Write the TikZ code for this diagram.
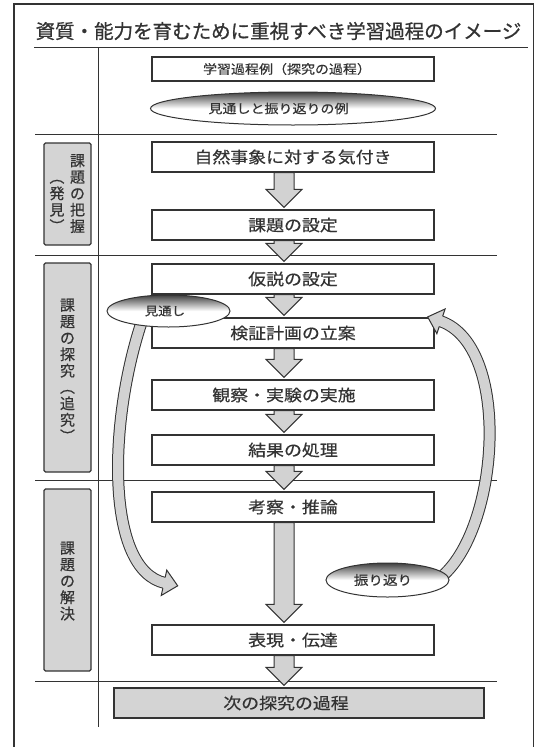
\documentclass[tikz,border=0pt]{standalone}
\usepackage{fontspec}
\newfontfamily\jp[FakeBold=0.5]{Noto Sans CJK JP}
\newfontfamily\jpt[FakeBold=0.8]{Noto Sans CJK JP}
\newfontfamily\jpw[FakeStretch=1.12,FakeBold=0.5]{Noto Sans CJK JP}
\usetikzlibrary{calc,shapes.geometric}
\definecolor{ink}{HTML}{333333}
\definecolor{lgray}{HTML}{D4D4D4}
\definecolor{agray}{HTML}{D2D2D2}
\newcommand\blockarrow[2]{%
  \path[blockarrow] let \p1=(#1.south), \p2=(#2.north) in
    (\x1-19pt,\y1) -- (\x1+1pt,\y1) -- (\x1+1pt,\y2+20pt) -- (\x1+9pt,\y2+20pt)
    -- (\x1-9pt,\y2+2pt) -- (\x1-27pt,\y2+20pt) -- (\x1-19pt,\y2+20pt) -- cycle;}
\begin{document}
\begin{tikzpicture}[x=1pt,y=-1pt,
  frame/.style={draw=ink, line width=1.5pt},
  rule/.style={draw=ink, line width=1pt},
  box/.style={draw=ink, line width=1.2pt, fill=white, minimum width=282pt, minimum height=30pt, inner sep=0pt, font=\jpw\fontsize{16}{18}\selectfont, text=ink},
  labelbox/.style={draw=ink, line width=1.2pt, fill=lgray, rounded corners=1.5pt, inner sep=0pt},
  vchar/.style={inner sep=0pt, text height=13.2pt, text depth=1.8pt, font=\jp\fontsize{15}{16}\selectfont, text=ink},
  blockarrow/.style={draw=ink, line width=1pt, fill=agray, line join=miter},
  curvebody/.style={draw=ink, line width=1pt, double=agray, double distance=10pt},
  oval/.style={ellipse, draw=ink, line width=1pt, top color=black!75, bottom color=white, middle color=white, inner sep=0pt, text=ink},
  headline/.style={draw=ink, line width=1pt, line join=miter},
]
\useasboundingbox (0,0) rectangle (536,747);
% frame and rules
\draw[frame] (14,747) -- (14,4) -- (533.5,4) -- (533.5,747);
\node[inner sep=0pt, font=\jpt\fontsize{19.5}{22}\selectfont, text=ink] (title) at (278.5,31) {資質・能力を育むために重視すべき学習過程のイメージ};
\draw[rule, line width=1.4pt] (34,47.5) -- (528,47.5);
\draw[rule] (98.5,47.5) -- (98.5,727);
\foreach \yy in {134,255,480,681} \draw[rule] (35,\yy) -- (497,\yy);
% stage labels
\node[labelbox, minimum width=47pt, minimum height=102pt] (L1) at (67.5,194) {};
\node[labelbox, minimum width=47pt, minimum height=209pt] (L2) at (67.5,367.5) {};
\node[labelbox, minimum width=47pt, minimum height=182pt] (L3) at (67.5,580) {};
\foreach \c [count=\i] in {課,題,の,把,握} \node[vchar] (va-\i) at (77.5,{160.5+16.4*(\i-1)}) {\c};
\foreach \c [count=\i] in {︵,発,見,︶} \node[vchar] (vb-\i) at (57,{176.9+16.4*(\i-1)}) {\c};
\foreach \c [count=\i] in {課,題,の,探,究,︵,追,究,︶} \node[vchar] (vc-\i) at (67.5,{305+16.4*(\i-1)}) {\c};
\foreach \c [count=\i] in {課,題,の,解,決} \node[vchar] (vd-\i) at (67.5,{548+16.4*(\i-1)}) {\c};
% process boxes
\node[box, minimum height=24pt, font=\jpw\fontsize{12.5}{14}\selectfont] (b0) at (293,69) {\hspace*{-12pt}学習過程例（探究の過程）};
\node[oval, minimum width=285pt, minimum height=33pt, font=\jpw\fontsize{12.5}{14}\selectfont] (e0) at (293,108.5) {\hspace*{-29pt}見通しと振り返りの例};
\node[box] (b1) at (293,157) {自然事象に対する気付き};
\node[box] (b2) at (293,225) {課題の設定};
\node[box] (b3) at (293,279) {仮説の設定};
\node[box] (b4) at (293,333) {検証計画の立案};
\node[box] (b5) at (293,395) {\hspace*{-18pt}観察・実験の実施};
\node[box] (b6) at (293,450) {結果の処理};
\node[box] (b7) at (293,507) {考察・推論};
\node[box] (b8) at (293,640) {表現・伝達};
\node[box, fill=lgray, minimum width=370pt] (b9) at (299,703) {\hspace*{-26pt}次の探究の過程};
% block arrows
\blockarrow{b1}{b2}
\blockarrow{b2}{b3}
\blockarrow{b3}{b4}
\blockarrow{b4}{b5}
\blockarrow{b5}{b6}
\blockarrow{b6}{b7}
\blockarrow{b7}{b8}
\blockarrow{b8}{b9}
% curved arrows
\coordinate (ls) at (143,318);
\coordinate (le) at (165,583);
\draw[curvebody] (ls) .. controls (108,420) and (105,570) .. (le);
\fill[agray] (161.24,595.5) -- (177.7,585.8) -- (166.76,570.1) -- cycle;
\draw[headline] (162.83,588.17) -- (161.24,595.5) -- (177.7,585.8) -- (166.76,570.1) -- (165.17,577.43);
\coordinate (rs) at (440,578);
\coordinate (re) at (440,321);
\draw[curvebody] (rs) .. controls (500,530) and (512,345) .. (re);
\fill[agray] (445.06,308.98) -- (427.66,316.9) -- (436.84,333.66) -- cycle;
\draw[headline] (442.69,316.1) -- (445.06,308.98) -- (427.66,316.9) -- (436.84,333.66) -- (439.21,326.54);
% ovals
\node[oval, minimum width=123pt, minimum height=32pt, font=\jpw\fontsize{12}{14}\selectfont] (e1) at (168.5,311) {\hspace*{-7pt}見通し};
\node[oval, minimum width=123pt, minimum height=34pt, font=\jpw\fontsize{13}{15}\selectfont] (e2) at (387.5,580) {\hspace*{-9pt}振り返り};
\end{tikzpicture}
\end{document}
